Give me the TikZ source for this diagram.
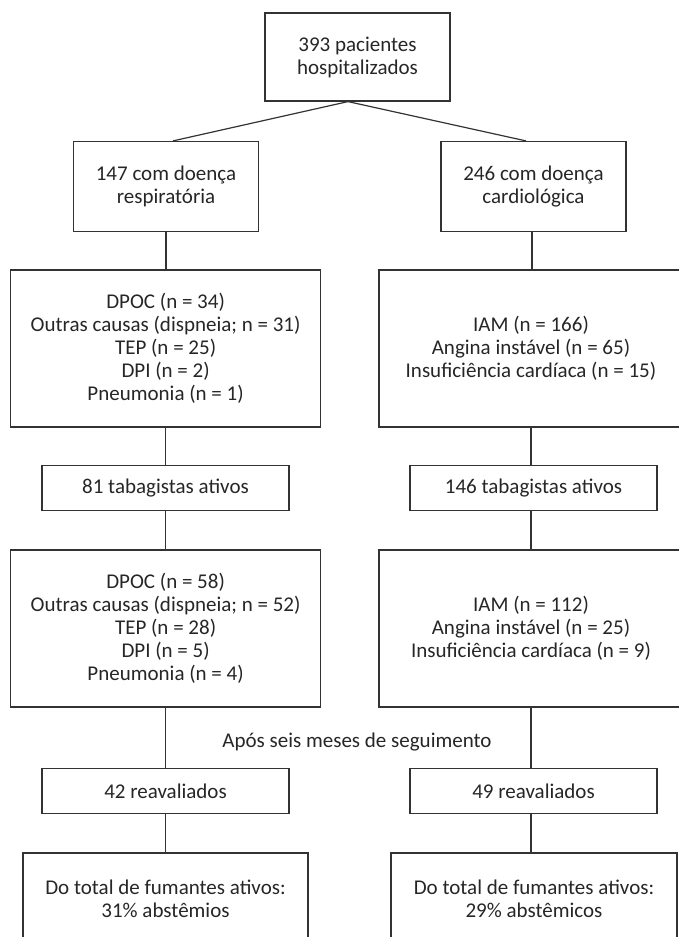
\documentclass[tikz,border=0pt]{standalone}
\usepackage{fontspec}
\setmainfont{Carlito}
\begin{document}
\begin{tikzpicture}[x=1pt,y=-1pt,
  txt/.style={font=\fontsize{21}{23}\selectfont, text=black!85, align=center},
  box/.style={txt, draw=black!80, line width=1.2pt, inner sep=0pt},
  conn/.style={draw=black!80, line width=1.2pt}]
\useasboundingbox (0,0) rectangle (679,937);
\clip (0,0) rectangle (679,937);
\node[box, minimum width=185, minimum height=88] (top) at (357.5,57) {393 pacientes\\hospitalizados};
\node[box, minimum width=185, minimum height=90] (l1) at (166,186.5) {147 com doença\\respiratória};
\node[box, minimum width=185, minimum height=90] (r1) at (533.5,186.5) {246 com doença\\cardiológica};
\node[box, minimum width=310, minimum height=157] (l2) at (165.6,348.5) {DPOC (n = 34)\\Outras causas (dispneia; n = 31)\\TEP (n = 25)\\DPI (n = 2)\\Pneumonia (n = 1)};
\node[box, minimum width=304, minimum height=157] (r2) at (531,348.5) {IAM (n = 166)\\Angina instável (n = 65)\\Insuficiência cardíaca (n = 15)};
\node[box, minimum width=247, minimum height=45] (l3) at (165.5,488) {81 tabagistas ativos};
\node[box, minimum width=247, minimum height=45] (r3) at (533.5,488) {146 tabagistas ativos};
\node[box, minimum width=310, minimum height=157] (l4) at (165.6,628.5) {DPOC (n = 58)\\Outras causas (dispneia; n = 52)\\TEP (n = 28)\\DPI (n = 5)\\Pneumonia (n = 4)};
\node[box, minimum width=304, minimum height=157] (r4) at (531,628.5) {IAM (n = 112)\\Angina instável (n = 25)\\Insuficiência cardíaca (n = 9)};
\node[txt] (apos) at (357,742) {Após seis meses de seguimento};
\node[box, minimum width=247, minimum height=45] (l5) at (165.5,790.8) {42 reavaliados};
\node[box, minimum width=247, minimum height=45] (r5) at (533.5,790.8) {49 reavaliados};
\node[box, minimum width=285, minimum height=91] (l6) at (165.5,898.5) {Do total de fumantes ativos:\\31\% abstêmios};
\node[box, minimum width=286, minimum height=91] (r6) at (534,898.5) {Do total de fumantes ativos:\\29\% abstêmicos};
\draw[conn] ([xshift=-9.5pt]top.south) -- ([xshift=7pt]l1.north);
\draw[conn] ([xshift=-9.5pt]top.south) -- ([xshift=-7.5pt]r1.north);
\draw[conn] (l1.south) -- (l1.south |- l2.north);
\draw[conn] ([xshift=-1.5pt]r1.south) -- ([xshift=-1.5pt]r1.south |- r2.north);
\draw[conn] (l2.south) -- (l2.south |- l3.north);
\draw[conn] (r2.south) -- (r2.south |- r3.north);
\draw[conn] (l3.south) -- (l3.south |- l4.north);
\draw[conn] (r2.south |- r3.south) -- (r2.south |- r4.north);
\draw[conn] (l4.south) -- (l4.south |- l5.north);
\draw[conn] (r4.south) -- (r4.south |- r5.north);
\draw[conn] (l5.south) -- (l5.south |- l6.north);
\draw[conn] (r4.south |- r5.south) -- (r4.south |- r6.north);
\end{tikzpicture}
\end{document}
